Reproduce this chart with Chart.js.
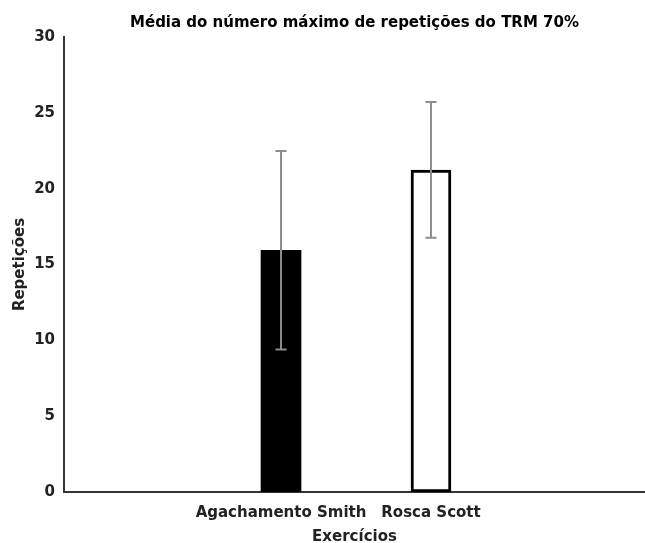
<!DOCTYPE html>
<html>
<head>
<meta charset="utf-8">
<script src="https://cdn.jsdelivr.net/npm/chart.js@4/dist/chart.umd.min.js"></script>
<style>
  html, body { margin: 0; padding: 0; background: #fff; }
</style>
</head>
<body>
<canvas id="chart" width="645" height="543"></canvas>
<script>
// Média e desvio (barras de erro) — TRM 70%
const categories = ['Agachamento Smith', 'Rosca Scott'];
const means = [15.94, 21.23];
const errLow = [9.39, 16.76];
const errHigh = [22.48, 25.72];
const yTicks = [0, 5, 10, 15, 20, 25, 30];

const FONT = { family: 'DejaVu Sans', size: 15, weight: 'bold' };
const TEXT = '#222';

// barras de erro cinza desenhadas por cima das barras
const errorBars = {
  id: 'errorBars',
  afterDatasetsDraw(chart) {
    const { ctx, scales: { x, y } } = chart;
    ctx.save();
    ctx.strokeStyle = '#8c8c8c';
    ctx.lineWidth = 2;
    categories.forEach((c, i) => {
      const px = x.getPixelForValue(i + 1);
      const top = y.getPixelForValue(errHigh[i]);
      const bot = y.getPixelForValue(errLow[i]);
      ctx.beginPath();
      ctx.moveTo(px, top); ctx.lineTo(px, bot);
      ctx.moveTo(px - 5.5, top); ctx.lineTo(px + 5.5, top);
      ctx.moveTo(px - 5.5, bot); ctx.lineTo(px + 5.5, bot);
      ctx.stroke();
    });
    ctx.restore();
  }
};

new Chart(document.getElementById('chart'), {
  type: 'bar',
  data: {
    datasets: [{
      data: categories.map((c, i) => ({ x: i + 1, y: means[i] })),
      backgroundColor: ['#000', '#fff'],
      borderColor: '#000',
      borderWidth: [0, 3],
      borderSkipped: false,
      barThickness: 40
    }]
  },
  options: {
    responsive: false,
    animation: false,
    devicePixelRatio: 1,
    layout: { padding: { left: 0, right: 0, top: 0, bottom: 0 } },
    plugins: {
      legend: { display: false },
      tooltip: { enabled: false },
      title: {
        display: true,
        fullSize: false,
        text: 'Média do número máximo de repetições do TRM 70%',
        color: '#000',
        font: FONT,
        padding: { top: 14, bottom: 5 }
      }
    },
    scales: {
      x: {
        type: 'linear',
        offset: false,
        min: -0.447,
        max: 3.427,
        afterBuildTicks: scale => { scale.ticks = categories.map((c, i) => ({ value: i + 1 })); },
        afterFit: scale => { scale.height = 51; },
        ticks: {
          autoSkip: false,
          maxRotation: 0,
          padding: 12,
          color: TEXT,
          font: FONT,
          callback: v => categories[v - 1]
        },
        grid: { display: false, drawTicks: false },
        border: { display: true, color: '#333', width: 2 },
        title: {
          display: true,
          text: 'Exercícios',
          color: TEXT,
          font: { ...FONT, lineHeight: 0.8 },
          padding: { top: 0, bottom: 0 }
        }
      },
      y: {
        min: 0,
        max: 30,
        afterBuildTicks: scale => { scale.ticks = yTicks.map(v => ({ value: v })); },
        afterFit: scale => { scale.width = 64; },
        ticks: { padding: 9, color: TEXT, font: FONT },
        grid: { display: false, drawTicks: false },
        border: { display: true, color: '#333', width: 2 },
        title: {
          display: true,
          text: 'Repetições',
          color: TEXT,
          font: FONT,
          padding: { top: 11, bottom: 0 }
        }
      }
    }
  },
  plugins: [errorBars]
});
</script>
</body>
</html>
